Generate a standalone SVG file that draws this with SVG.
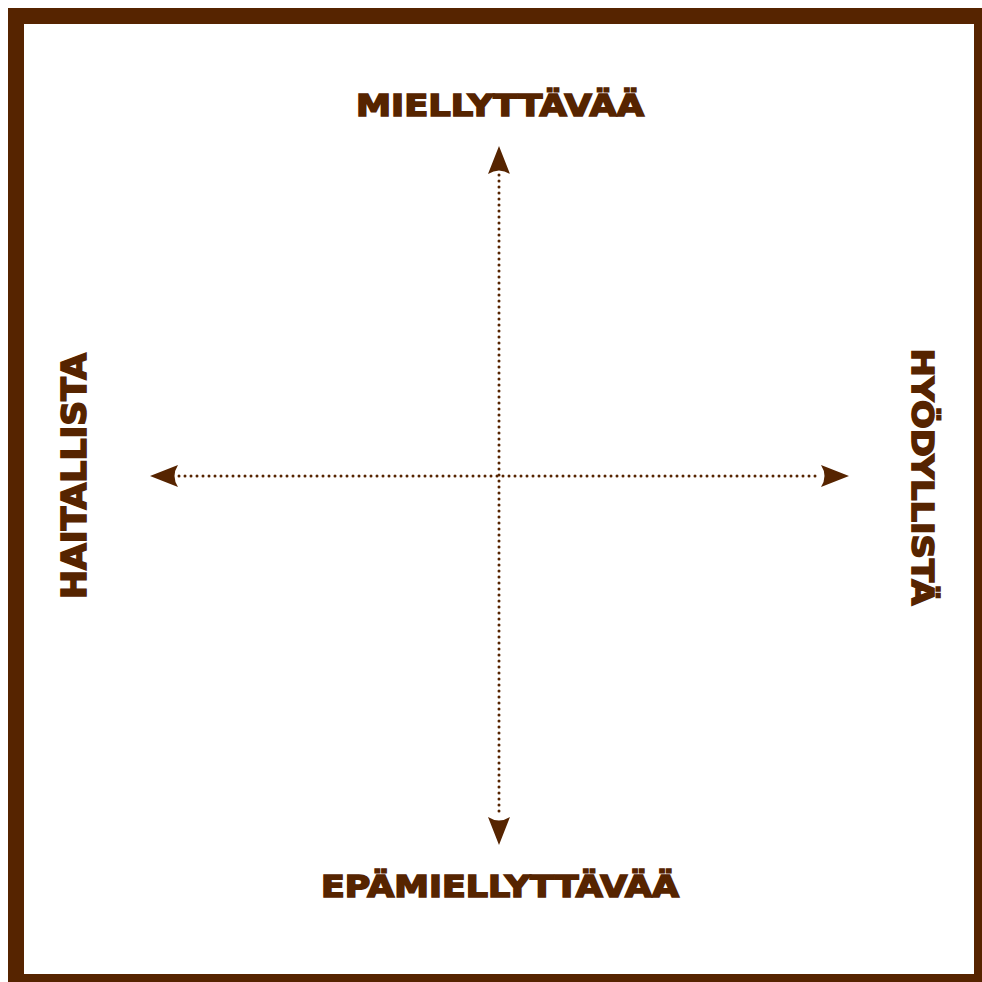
<svg xmlns="http://www.w3.org/2000/svg" width="982" height="982" viewBox="0 0 982 982">
<style>
.lbl{font-family:"DejaVu Sans","Liberation Sans",sans-serif;font-weight:bold;fill:#562400;stroke:#562400;stroke-width:1.6;stroke-linejoin:miter;text-anchor:middle;}
.axis{stroke:#562400;stroke-width:3;stroke-linecap:round;stroke-dasharray:0 6;fill:none;}
.head{fill:#562400;}
</style>
<rect x="16" y="16" width="966" height="966" fill="#ffffff" stroke="#562400" stroke-width="16"/>
<g id="connectors">
<line class="axis" x1="499" y1="175" x2="499" y2="815"/>
<line class="axis" x1="179" y1="476" x2="819" y2="476"/>
<path class="head" d="M499,146 L510,174 Q499,167 488,174 Z"/>
<path class="head" d="M499,845 L510,817 Q499,824 488,817 Z"/>
<path class="head" d="M150,476 L178,465 Q171,476 178,487 Z"/>
<path class="head" d="M849,476 L821,465 Q828,476 821,487 Z"/>
</g>
<g id="top"><text class="lbl" x="500" y="116" font-size="30" textLength="288" lengthAdjust="spacingAndGlyphs">MIELLYTTÄVÄÄ</text></g>
<g id="bottom"><text class="lbl" x="500" y="897" font-size="30" textLength="358" lengthAdjust="spacingAndGlyphs">EPÄMIELLYTTÄVÄÄ</text></g>
<g id="left"><text class="lbl" transform="translate(86,476) rotate(-90)" font-size="33" textLength="246" lengthAdjust="spacingAndGlyphs">HAITALLISTA</text></g>
<g id="right"><text class="lbl" transform="translate(912,477) rotate(90)" font-size="31" textLength="257" lengthAdjust="spacingAndGlyphs">HYÖDYLLISTÄ</text></g>
</svg>
